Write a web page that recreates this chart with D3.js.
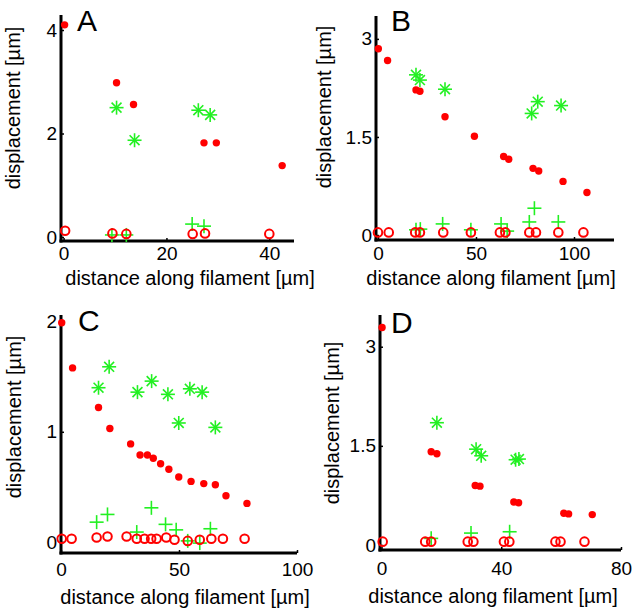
<!DOCTYPE html>
<html>
<head>
<meta charset="utf-8">
<script src="https://cdn.jsdelivr.net/npm/d3@7"></script>
<style>
  body { margin: 0; background: #fff; }
  svg { display: block; font-family: "Liberation Sans", Arial, sans-serif; }
</style>
</head>
<body>
<svg id="chart" width="642" height="609"></svg>
<script>
// panel A data: [distance, displacement]
var aDots = [[0.2, 4.1], [10.3, 2.98], [13.6, 2.56], [27.3, 1.82], [29.7, 1.82], [42.5, 1.38]];
var aStars = [[10.3, 2.5], [13.8, 1.87], [26.2, 2.45], [28.5, 2.36]];
var aPlus = [[9.4, 0.04], [12.2, 0.04], [25, 0.25], [27.3, 0.21]];
var aRings = [[0.3, 0.12], [9.5, 0.07], [12.2, 0.06], [25.1, 0.06], [27.5, 0.07], [40, 0.06]];

// panel B data
var bDots = [[0.2, 2.85], [4.9, 2.67], [19.4, 2.22], [21.4, 2.2], [34.2, 1.81], [49.2, 1.51], [64.1, 1.2],
    [66.7, 1.16], [79.1, 1.02], [82, 0.98], [94.4, 0.82], [106.6, 0.65]];
var bStars = [[19.4, 2.45], [21.4, 2.37], [34.2, 2.23], [78.4, 1.86], [81.5, 2.04], [93.4, 1.98]];
var bPlus = [[19.4, 0.08], [21.6, 0.09], [33, 0.17], [47.4, 0.08], [62.8, 0.17], [65.9, 0.06],
    [77.2, 0.2], [79.8, 0.41], [92, 0.2]];
var bRings = [[0, 0.04], [5.5, 0.04], [19, 0.04], [21.4, 0.04], [33.3, 0.04], [47.4, 0.04], [62.2, 0.04],
    [65, 0.04], [77.2, 0.04], [80.6, 0.04], [92, 0.04], [104.8, 0.04]];

// panel C data
var cDots = [[0.3, 1.99], [4.9, 1.58], [15.9, 1.22], [20.7, 1.03], [29.5, 0.89], [33.5, 0.79], [36.6, 0.79],
    [39.1, 0.76], [42.2, 0.71], [45.7, 0.66], [49.9, 0.59], [55.1, 0.55], [60.5, 0.53], [65.4, 0.52],
    [69.9, 0.42], [78.8, 0.35]];
var cStars = [[15.9, 1.4], [20.4, 1.59], [32.4, 1.36], [38.4, 1.46], [45.3, 1.34], [49.9, 1.08],
    [54.6, 1.39], [59.8, 1.36], [65.4, 1.04]];
var cPlus = [[15.1, 0.18], [19.7, 0.25], [32.1, 0.09], [38.3, 0.31], [44.3, 0.16], [48.8, 0.11],
    [53.7, 0.01], [58.8, -0.01], [63.3, 0.12]];
var cRings = [[0.3, 0.03], [4.5, 0.03], [15.1, 0.04], [19.7, 0.05], [27.8, 0.05], [32.1, 0.03], [35.4, 0.03],
    [38.2, 0.03], [40.5, 0.03], [44.6, 0.04], [48.1, 0.02], [53.7, 0.01], [58.8, 0.02], [63.7, 0.03],
    [68.6, 0.03], [77.8, 0.03]];

// panel D data
var dDots = [[0.2, 3.29], [16.6, 1.41], [18.5, 1.38], [31.3, 0.9], [32.9, 0.89], [44.2, 0.65], [45.8, 0.64],
    [60.9, 0.48], [62.5, 0.47], [70.4, 0.46]];
var dStars = [[18.5, 1.85], [31.6, 1.45], [33.3, 1.35], [44.8, 1.29], [45.9, 1.3]];
var dPlus = [[16.6, 0.1], [29.9, 0.18], [42.8, 0.2]];
var dRings = [[0.4, 0.05], [14.6, 0.05], [16.6, 0.05], [28.8, 0.05], [30.7, 0.05], [40.9, 0.05], [42.7, 0.05],
    [58.1, 0.05], [59.8, 0.05], [67.8, 0.05]];

// panel letters and tick values
var letters = ['A', 'B', 'C', 'D'];
var xTicks = [[0, 20, 40], [0, 50, 100], [0, 50, 100], [0, 40, 80]];
var yTicks = [[0, 2, 4], [0, 1.5, 3], [0, 1, 2], [0, 1.5, 3]];
var xDomains = [[-0.5, 44.8], [-1, 120.4], [0, 100], [-0.5, 80]];
var yDomains = [[-0.077, 4.29], [-0.076, 3.35], [-0.1, 2.06], [-0.076, 3.48]];

var xTitle = 'distance along filament [µm]',
    yTitle = 'displacement [µm]';

var red = '#ff0000',
    green = '#22f022';

//panel layout (pixel boxes and label anchors)
var layout = [
    { left: 61, right: 294, bottom: 241, top: 15, xPad: 6, xLab: [190, 285], yLab: [20, 108], letter: [77, 31] },
    { left: 376, right: 614, bottom: 240, top: 16, xPad: 7, xLab: [491, 285], yLab: [331, 107], letter: [391, 31] },
    { left: 61, right: 297, bottom: 553, top: 315, xPad: 10, xLab: [185, 604], yLab: [21, 417], letter: [78, 331] },
    { left: 380, right: 621, bottom: 550, top: 315, xPad: 12, xLab: [493, 603], yLab: [339, 423], letter: [391, 333] }
];

var series = [
    { dots: aDots, stars: aStars, plus: aPlus, rings: aRings },
    { dots: bDots, stars: bStars, plus: bPlus, rings: bRings },
    { dots: cDots, stars: cStars, plus: cPlus, rings: cRings },
    { dots: dDots, stars: dStars, plus: dPlus, rings: dRings }
];

var svg = d3.select('#chart');

//draws one panel
function drawPanel(i) {
    var box = layout[i],
        data = series[i];

    var xScale = d3.scaleLinear().domain(xDomains[i]).range([box.left, box.right]);
    var yScale = d3.scaleLinear().domain(yDomains[i]).range([box.bottom, box.top]);

    var g = svg.append('g').attr('class', 'panel');

    //x axis
    var xAxis = g.append('g')
        .attr('transform', 'translate(0,' + box.bottom + ')')
        .call(d3.axisBottom(xScale).tickValues(xTicks[i]).tickFormat(d3.format('')).tickSizeInner(-3).tickSizeOuter(0).tickPadding(box.xPad));

    //y axis
    var yAxis = g.append('g')
        .attr('transform', 'translate(' + box.left + ',0)')
        .call(d3.axisLeft(yScale).tickValues(yTicks[i]).tickFormat(d3.format('')).tickSizeInner(-3).tickSizeOuter(0).tickPadding(4));

    [xAxis, yAxis].forEach(function (ax) {
        ax.select('.domain').attr('stroke', '#000').attr('stroke-width', 3);
        ax.selectAll('.tick line').attr('stroke', '#000').attr('stroke-width', 1.5);
        ax.selectAll('.tick text').attr('fill', '#000').style('font-size', '19px')
            .style('font-family', '"Liberation Sans", Arial, sans-serif');
    });

    //pull the x domain line a bit so it meets the y axis
    xAxis.select('.domain').attr('d', 'M' + (box.left - 1.5) + ',0H' + box.right);
    yAxis.select('.domain').attr('d', 'M0,' + (box.bottom + 1.5) + 'V' + box.top);

    //filled dots
    g.selectAll('.dot').data(data.dots).enter().append('circle')
        .attr('class', 'dot')
        .attr('cx', function (d) { return xScale(d[0]); })
        .attr('cy', function (d) { return yScale(d[1]); })
        .attr('r', 3.7)
        .attr('fill', red);

    //asterisks
    var star = g.selectAll('.star').data(data.stars).enter().append('g')
        .attr('class', 'star')
        .attr('transform', function (d) { return 'translate(' + xScale(d[0]) + ',' + yScale(d[1]) + ')'; });
    [0, 45, 90, 135].forEach(function (a) {
        star.append('line')
            .attr('x1', -7).attr('x2', 7).attr('y1', 0).attr('y2', 0)
            .attr('transform', 'rotate(' + a + ')')
            .attr('stroke', green).attr('stroke-width', 1.6);
    });

    //plus signs
    var plus = g.selectAll('.plus').data(data.plus).enter().append('g')
        .attr('class', 'plus')
        .attr('transform', function (d) { return 'translate(' + xScale(d[0]) + ',' + yScale(d[1]) + ')'; });
    [0, 90].forEach(function (a) {
        plus.append('line')
            .attr('x1', -7).attr('x2', 7).attr('y1', 0).attr('y2', 0)
            .attr('transform', 'rotate(' + a + ')')
            .attr('stroke', green).attr('stroke-width', 1.6);
    });

    //open rings
    g.selectAll('.ring').data(data.rings).enter().append('circle')
        .attr('class', 'ring')
        .attr('cx', function (d) { return xScale(d[0]); })
        .attr('cy', function (d) { return yScale(d[1]); })
        .attr('r', 4.3)
        .attr('fill', 'none')
        .attr('stroke', red)
        .attr('stroke-width', 2);

    //axis titles
    g.append('text')
        .attr('x', box.xLab[0]).attr('y', box.xLab[1])
        .attr('text-anchor', 'middle')
        .style('font-size', '20px')
        .text(xTitle);

    g.append('text')
        .attr('transform', 'translate(' + box.yLab[0] + ',' + box.yLab[1] + ') rotate(-90)')
        .attr('text-anchor', 'middle')
        .style('font-size', '20px')
        .text(yTitle);

    //panel letter
    g.append('text')
        .attr('x', box.letter[0]).attr('y', box.letter[1])
        .style('font-size', '30px')
        .text(letters[i]);
}

for (var i = 0; i < 4; i++)
    drawPanel(i);
</script>
</body>
</html>
